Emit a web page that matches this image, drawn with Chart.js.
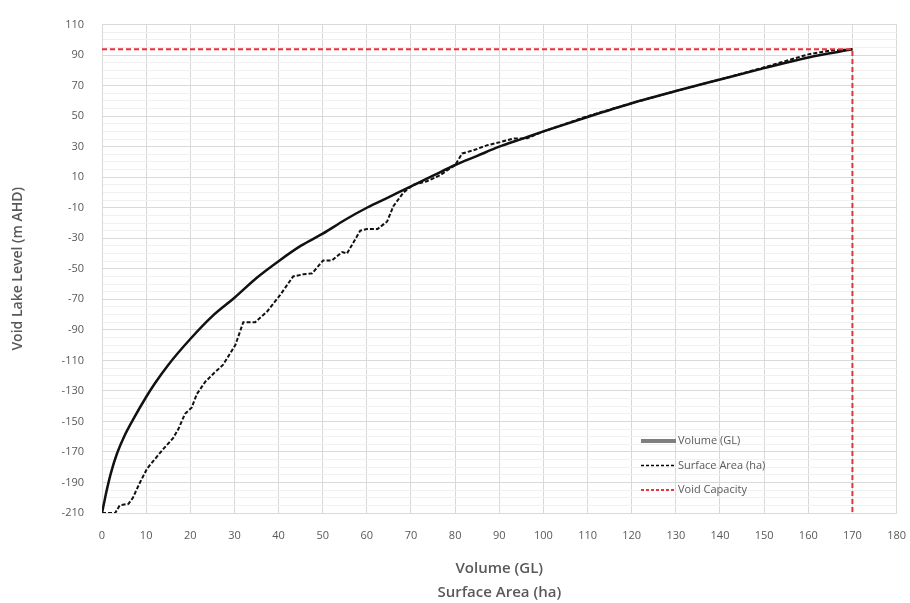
<!DOCTYPE html>
<html>
<head>
<meta charset="utf-8">
<script src="https://cdn.jsdelivr.net/npm/chart.js@4/dist/chart.umd.min.js"></script>
<style>
  html, body { margin: 0; padding: 0; background: #fff; }
  #wrap { width: 910px; height: 603px; }
</style>
</head>
<body>
<div id="wrap"><canvas id="chart"></canvas></div>
<script>
// volume curve (GL vs level)
const volumeX = [0, 0.5, 1, 2, 3.4, 5, 7, 10, 12, 15, 20, 25, 30, 35, 40, 45, 50, 55, 60, 65, 70, 75, 80, 85, 90, 95, 100, 110, 120, 130, 140, 150, 160, 170]
const volumeY = [-210, -203, -196, -184, -171, -160, -149, -134, -125, -113, -96, -81, -69, -56, -45, -35, -27, -18, -10, -3, 4, 11, 18, 24, 30, 35, 40, 49.5, 58.5, 66.5, 74, 81.5, 88.5, 93.8]

// surface area curve (ha vs level)
const areaX = [0, 3, 4, 6, 7, 8.6, 10.2, 11.6, 13.9, 16.1, 17.3, 18.8, 20.3, 21.5, 23.4, 25.5, 27.4, 30.2, 32, 34.7, 37.4, 40.4, 43.3, 45.6, 47.6, 50.1, 52.1, 54.4, 55.5, 58.5, 60, 62.4, 64.6, 66, 68.3, 70.5, 73.6, 76.6, 80, 81.6, 84, 87.3, 90.2, 93.2, 96.3, 100, 110, 120, 130, 140, 150, 160, 165, 170]
const areaY = [-210, -210, -205, -204, -200, -190, -181, -176, -168, -161, -155, -145, -141, -132, -124, -118, -113, -100, -85, -85, -78, -67, -55, -53.6, -53, -44.5, -44.5, -39, -40, -25, -24, -24, -19, -9, 0, 5, 7.4, 11.3, 18, 25.6, 27.5, 31, 33, 35.3, 35.5, 40, 50, 58.5, 66.5, 74, 82, 90.5, 93, 93.8]

// void capacity corner
const capacityX = [0, 170, 170]
const capacityY = [93.8, 93.8, -210]

const seriesLabels = ['Volume (GL)', 'Surface Area (ha)', 'Void Capacity']

const xTitle = ['Volume (GL)', 'Surface Area (ha)']
const yTitle = 'Void Lake Level (m AHD)'

function toPoints(xs, ys) {
    return xs.map((x, i) => ({ x: x, y: ys[i] }))
}

const textGray = '#595959'

// legend drawn inside the plot, lower right
const legendPlugin = {
    id: 'insideLegend',
    afterDraw(chart) {
        const ctx = chart.ctx
        const items = [
            { color: '#7f7f7f', width: 4, dash: [] },
            { color: '#000000', width: 1.5, dash: [3, 2] },
            { color: '#e8323c', width: 2, dash: [3, 2] }
        ]
        let x0 = 641, y0 = 441
        ctx.save()
        ctx.font = '11px "Open Sans", sans-serif'
        ctx.textBaseline = 'middle'
        items.forEach((it, i) => {
            let y = y0 + i * 24.5
            ctx.beginPath()
            ctx.strokeStyle = it.color
            ctx.lineWidth = it.width
            ctx.setLineDash(it.dash)
            ctx.moveTo(x0, y)
            ctx.lineTo(x0 + 35, y)
            ctx.stroke()
            ctx.setLineDash([])
            ctx.fillStyle = textGray
            ctx.fillText(seriesLabels[i], x0 + 37, y)
        })
        ctx.restore()
    }
}

new Chart(document.getElementById('chart'), {
    type: 'scatter',
    data: {
        datasets: [
            {
                label: seriesLabels[0],
                data: toPoints(volumeX, volumeY),
                showLine: true,
                borderColor: '#111111',
                borderWidth: 2.5,
                pointRadius: 0,
                cubicInterpolationMode: 'monotone',
                order: 2
            },
            {
                label: seriesLabels[1],
                data: toPoints(areaX, areaY),
                showLine: true,
                borderColor: '#111111',
                borderWidth: 2,
                borderDash: [4, 2],
                pointRadius: 0,
                tension: 0,
                order: 1
            },
            {
                label: seriesLabels[2],
                data: toPoints(capacityX, capacityY),
                showLine: true,
                borderColor: '#e8323c',
                borderWidth: 2,
                borderDash: [5, 3],
                pointRadius: 0,
                tension: 0,
                order: 0
            }
        ]
    },
    options: {
        responsive: true,
        maintainAspectRatio: false,
        animation: false,
        layout: { padding: { top: 17, right: 2, left: 6, bottom: 0 } },
        plugins: {
            legend: { display: false },
            tooltip: { enabled: false }
        },
        scales: {
            x: {
                type: 'linear',
                min: 0,
                max: 180,
                ticks: {
                    stepSize: 10,
                    padding: 4,
                    color: textGray,
                    font: { family: '"Open Sans", sans-serif', size: 11 }
                },
                // invisible tick marks keep the labels off the axis
                grid: { color: '#d9d9d9', drawTicks: true, tickLength: 12, tickColor: 'rgba(0,0,0,0)' },
                border: { color: '#d9d9d9' },
                title: {
                    display: true,
                    text: xTitle,
                    color: textGray,
                    font: { family: '"Open Sans", sans-serif', size: 15, weight: '600', lineHeight: 1.6 },
                    padding: { top: 0, bottom: -2 }
                },
                afterFit(scale) { scale.height = 90 }
            },
            y: {
                type: 'linear',
                min: -210,
                max: 110,
                ticks: {
                    stepSize: 5,
                    padding: 18,
                    autoSkip: false,
                    color: textGray,
                    font: { family: '"Open Sans", sans-serif', size: 11 },
                    callback: v => ((v + 210) % 20 === 0 ? v : '')
                },
                grid: {
                    drawTicks: false,
                    color: c => ((c.tick.value + 210) % 20 === 0 ? '#d9d9d9' : '#f0f0f0')
                },
                border: { color: '#d9d9d9' },
                title: {
                    display: true,
                    text: yTitle,
                    color: textGray,
                    font: { family: '"Open Sans", sans-serif', size: 14, weight: '600' },
                    padding: { bottom: 0 }
                },
                afterFit(scale) { scale.width = 96 }
            }
        }
    },
    plugins: [legendPlugin]
})
</script>
</body>
</html>
